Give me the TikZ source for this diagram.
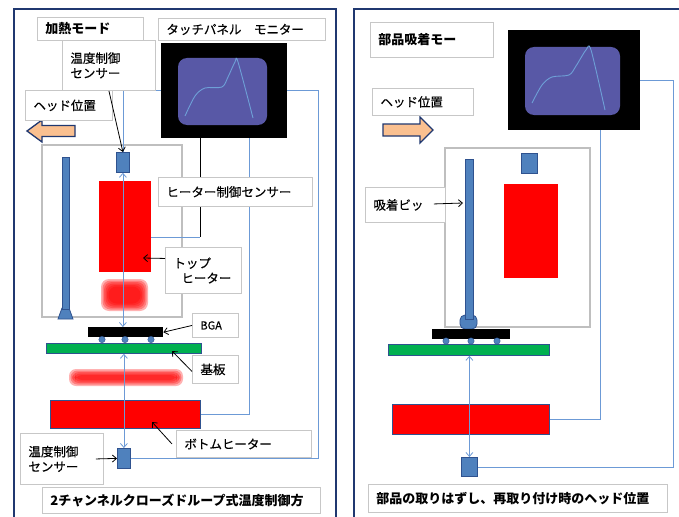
\documentclass[tikz,border=0pt]{standalone}
\usepackage{fontspec}
\setmainfont{Noto Sans CJK JP}
\newfontfamily\jplabel{Noto Sans CJK JP}[FakeBold=0.4]
\usetikzlibrary{arrows.meta}

\definecolor{frameblue}{RGB}{32,56,112}
\definecolor{partblue}{RGB}{79,129,189}
\definecolor{partedge}{RGB}{47,82,143}
\definecolor{wireblue}{RGB}{108,154,214}
\definecolor{screen}{RGB}{88,88,166}
\definecolor{curveblue}{RGB}{110,160,215}
\definecolor{headorange}{RGB}{250,192,144}
\definecolor{boardgreen}{RGB}{0,176,80}

\begin{document}
\begin{tikzpicture}[x=1pt, y=-1pt, >={Straight Barb[length=4pt,width=7pt]},
    lbl/.style={draw=black!22, line width=0.9pt, fill=white, anchor=north west,
        inner xsep=8pt, inner ysep=2pt, align=left, font=\jplabel\fontsize{12.5}{15}\selectfont},
    ttl/.style={lbl, font=\fontsize{13}{15}\selectfont\bfseries},
    part/.style={draw=partedge, fill=partblue, line width=0.8pt, inner sep=0pt, anchor=north west},
    heater/.style={fill=red, inner sep=0pt, anchor=north west},
    wire/.style={wireblue, line width=0.8pt},
    callout/.style={->, line width=0.8pt},
    headbox/.style={draw=black!25, line width=1.2pt},
    panel/.style={draw=frameblue, line width=2pt, fill=white},
    monitor/.style={fill=black, inner sep=0pt, anchor=north west},
    headarrow/.style={draw=frameblue, fill=headorange, line width=1.3pt, line join=miter}]
    \clip (0,0) rectangle (679,516);

    % ===== 左：加熱モード =====
    \draw[panel] (14,9) rectangle (336,530);
    \draw[headbox] (42,145) rectangle (182,317);

    % 监视器
    \node[monitor, minimum width=126, minimum height=95] (monL) at (161,43) {};
    \begin{scope}[shift={(178,58)}]
        \fill[screen, rounded corners=9] (0,0) rectangle (89,67);
        \draw[curveblue, line width=0.9pt] plot[smooth, tension=0.5] coordinates
            {(7,58) (17,38) (27,30) (44,29) (50,19) (57,4) (60,4) (75,60)};
    \end{scope}

    % 加热器
    \node[heater, minimum width=52, minimum height=91] (heatT) at (99,181) {};
    \foreach \d in {-1,0.5,...,6.5}
        \fill[red, opacity=0.3, rounded corners=8] (102+\d,280+\d) rectangle (147-\d,310-\d);
    \foreach \d in {-1,0.5,...,5}
        \fill[red, opacity=0.3, rounded corners=7] (70+\d,370+\d) rectangle (182-\d,385-\d);
    \node[heater, draw=partedge, line width=1pt, minimum width=150, minimum height=28] (heatB) at (50,400) {};

    % 吸嘴杆
    \filldraw[draw=partedge, fill=partblue, line width=0.8pt] (62,308) -- (69,308) -- (73,319) -- (58,319) -- cycle;
    \node[part, minimum width=7, minimum height=152] (rodL) at (62,157) {};

    % 传感器、BGA、基板
    \node[part, minimum width=13, minimum height=20] (sensT) at (116,152) {};
    \node[part, minimum width=13, minimum height=20] (sensB) at (117,448) {};
    \node[fill=black, inner sep=0pt, anchor=north west, minimum width=75, minimum height=10] (bga) at (88,327) {};
    \foreach \x in {102,125,151}
        \filldraw[draw=partedge, fill=partblue] (\x,339.5) circle (3.2);
    \node[part, fill=boardgreen, minimum width=155, minimum height=10] (board) at (46,343) {};

    % 连线
    \coordinate (rtL) at (318,0);
    \coordinate (dnL) at (249,0);
    \coordinate (kinkL) at (200,237);
    \draw[wire] (monL.west) -| (sensT.north);
    \draw[wire] (monL.east) -| (rtL |- sensB.east) -- (sensB.east);
    \draw[wire] (monL.south -| dnL) |- (heatB.east);
    \draw[line width=0.8pt] (monL.south -| kinkL) -- (kinkL);
    \draw[wire] (kinkL) -- (kinkL -| heatT.east);
    \draw[wire, <->] (sensT.south) -- (sensT.south |- bga.north);
    \draw[wire, <->] (board.south -| sensB.north) -- (sensB.north);

    % 方向箭头
    \filldraw[headarrow] (27,131) -- (42,120) -- (42,125.5) -- (75,125.5) -- (75,136.5)
        -- (42,136.5) -- (42,142) -- cycle;

    % 标签
    \node[ttl, text width=90, minimum height=23] (modeL) at (37,17) {加熱モード};
    \node[lbl, text width=151, minimum height=22] (monTitle) at (158,18) {タッチパネル\quad モニター};
    \node[lbl, text width=77, minimum height=50] (labSensT) at (62,40) {温度制御\\センサー};
    \node[lbl, text width=71, minimum height=30] (labHeadL) at (25,90) {ヘッド位置};
    \node[lbl, text width=138, minimum height=29] (labHeatSens) at (158,177) {ヒーター制御センサー};
    \node[lbl, text width=60, minimum height=46] (labHeatT) at (165,247) {トップ\\\hspace*{8pt}ヒーター};
    \node[lbl, text width=30, minimum height=24, font=\jplabel\fontsize{11}{13}\selectfont] (labBGA) at (192,313) {BGA};
    \node[lbl, text width=30, minimum height=28] (labBoard) at (192,355) {基板};
    \node[lbl, text width=119, minimum height=27] (labHeatB) at (176,430) {ボトムヒーター};
    \node[lbl, text width=67, minimum height=51] (labSensB) at (20,433) {温度制御\\センサー};
    \node[ttl, text width=262, minimum height=26] (capL) at (42,487) {2チャンネルクローズドループ式温度制御方};

    \coordinate (tipHeatT) at (143,258);
    \coordinate (tipBoard) at (172,351);
    \coordinate (tipHeatB) at (152,422);
    \draw[callout] (labSensT.south) -- (sensT.north);
    \draw[callout] ([yshift=12pt]labHeatT.west) -- (tipHeatT);
    \draw[callout] (labBGA.west) -- (bga.east);
    \draw[callout] ([yshift=-2pt]labBoard.west) -- (tipBoard);
    \draw[callout] ([xshift=-4pt]labHeatB.west) -- (tipHeatB);
    \draw[callout] ([xshift=-8pt]labSensB.east) -- (sensB.west);

    % ===== 右：部品吸着モード =====
    \draw[panel] (354,9) rectangle (700,530);
    \draw[headbox] (445,148) rectangle (590,327);

    \node[monitor, minimum width=132, minimum height=100] (monR) at (508,30) {};
    \begin{scope}[shift={(525,47)}]
        \fill[screen, rounded corners=9] (0,0) rectangle (95,68);
        \draw[curveblue, line width=0.9pt] plot[smooth, tension=0.5] coordinates
            {(7,56) (17,38) (27,30) (44,28) (51,19) (61,3) (66,3) (80,63)};
    \end{scope}

    \node[heater, minimum width=54, minimum height=94] (heatTR) at (504,184) {};
    \node[heater, draw=partedge, line width=1pt, minimum width=157, minimum height=30] (heatBR) at (392,404) {};

    \filldraw[draw=partedge, fill=partblue, line width=0.8pt, rounded corners=5] (460,329) rectangle (477,315);
    \node[part, minimum width=8, minimum height=160] (rodR) at (465,159) {};

    \node[part, minimum width=16, minimum height=20] (sensTR) at (521,153) {};
    \node[part, minimum width=16, minimum height=19] (sensBR) at (461,457) {};
    \node[fill=black, inner sep=0pt, anchor=north west, minimum width=78, minimum height=10] (bgaR) at (432,329) {};
    \foreach \x in {446,471,497}
        \filldraw[draw=partedge, fill=partblue] (\x,341) circle (3.2);
    \node[part, fill=boardgreen, minimum width=161, minimum height=11] (boardR) at (388,344) {};

    \coordinate (rtR) at (673,0);
    \coordinate (dnR) at (600,0);
    \draw[wire] (monR.east) -| (rtR |- sensBR.east) -- (sensBR.east);
    \draw[wire] (monR.south -| dnR) |- (heatBR.east);
    \draw[wire, <->] (boardR.south -| sensBR.north) -- (sensBR.north);

    \filldraw[headarrow] (433,130) -- (420,117) -- (420,124) -- (383,124) -- (383,136)
        -- (420,136) -- (420,143) -- cycle;

    \node[ttl, text width=107, minimum height=35] (modeR) at (370,22) {部品吸着モー};
    \node[lbl, text width=85, minimum height=27] (labHeadR) at (372,88) {ヘッド位置};
    \node[lbl, text width=64, minimum height=35] (labBit) at (365,187) {吸着ビッ};
    \node[ttl, text width=283, minimum height=28] (capR) at (368,484) {部品の取りはずし、再取り付け時のヘッド位置};

    \coordinate (tipBit) at (463,203);
    \draw[callout] ([xshift=-12pt,yshift=1pt]labBit.east) -- (tipBit);
\end{tikzpicture}
\end{document}
